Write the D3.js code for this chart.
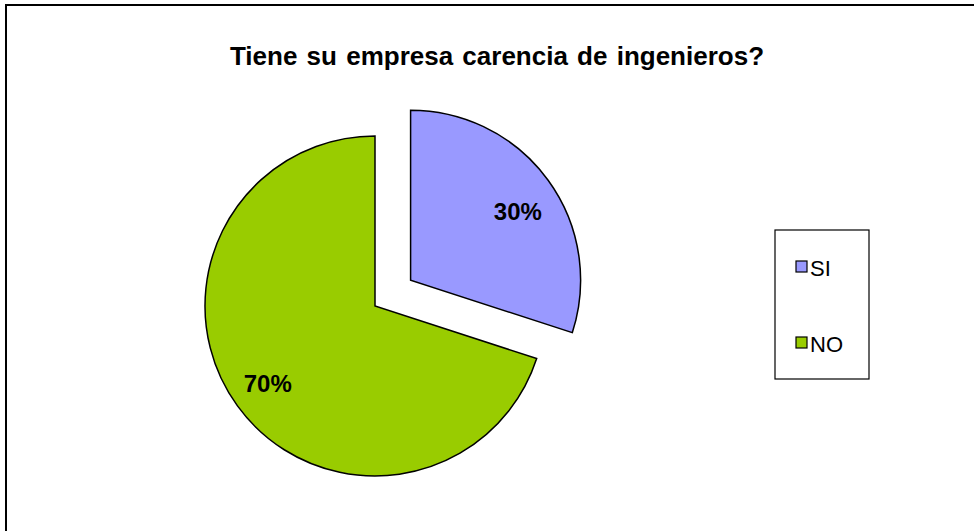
<!DOCTYPE html>
<html>
<head>
<meta charset="utf-8">
<script src="https://cdn.jsdelivr.net/npm/d3@7"></script>
<style>
  html, body { margin: 0; padding: 0; background: #fff; overflow: hidden; }
  svg { display: block; font-family: "Liberation Sans", Arial, sans-serif; }
</style>
</head>
<body>
<div class="canvas"></div>
<script>
// chart data
const categories = ['SI', 'NO'];
const values = [30, 70];
const labels = ['30%', '70%'];
const title = 'Tiene su empresa carencia de ingenieros?';

const colours = ['#9999FF', '#99CC00'];

const dims = { width: 974, height: 531, radius: 170 };
const cent = { x: 375, y: 306 };
const explode = 44;

const svg = d3.select('.canvas')
    .append('svg')
    .attr('width', dims.width)
    .attr('height', dims.height);

// outer chart frame (runs past the window on the right and bottom)
svg.append('rect')
    .attr('x', 6)
    .attr('y', 5)
    .attr('width', 1100)
    .attr('height', 700)
    .attr('fill', '#fff')
    .attr('stroke', '#000')
    .attr('stroke-width', 2);

svg.append('text')
    .attr('x', 497)
    .attr('y', 65)
    .attr('text-anchor', 'middle')
    .attr('font-size', 26)
    .attr('font-weight', 'bold')
    .attr('word-spacing', 2)
    .text(title);

const colour = d3.scaleOrdinal()
    .domain(categories)
    .range(colours);

const pie = d3.pie()
    .sort(null)
    .value(d => d.value);

const data = categories.map((c, i) => ({ name: c, value: values[i], label: labels[i] }));

const arcPath = d3.arc()
    .outerRadius(dims.radius)
    .innerRadius(0);

const labelArc = d3.arc()
    .outerRadius(dims.radius * 1.56)
    .innerRadius(0);

const graph = svg.append('g')
    .attr('transform', `translate(${cent.x}, ${cent.y})`);

// SI slice is pulled out of the pie
const offset = (d, i) => {
    if (i !== 0) return [0, 0];
    const mid = (d.startAngle + d.endAngle) / 2;
    return [Math.sin(mid) * explode, -Math.cos(mid) * explode];
};

const slices = graph.selectAll('g.slice')
    .data(pie(data))
    .enter()
    .append('g')
    .attr('class', 'slice')
    .attr('transform', (d, i) => `translate(${offset(d, i)})`);

slices.append('path')
    .attr('d', arcPath)
    .attr('fill', d => colour(d.data.name))
    .attr('stroke', '#000')
    .attr('stroke-width', 1.5)
    .attr('stroke-linejoin', 'miter');

slices.append('text')
    .attr('transform', (d, i) => {
        const [x, y] = labelArc.centroid(d);
        return `translate(${x}, ${y + (i === 0 ? 9 : 0)})`;
    })
    .attr('text-anchor', 'middle')
    .attr('dominant-baseline', 'central')
    .attr('font-size', 24)
    .attr('font-weight', 'bold')
    .text(d => d.data.label);

// legend
const legend = svg.append('g')
    .attr('transform', 'translate(775, 230)');

legend.append('rect')
    .attr('width', 94)
    .attr('height', 149)
    .attr('fill', '#fff')
    .attr('stroke', '#000')
    .attr('stroke-width', 1.2);

const items = legend.selectAll('g.item')
    .data(categories)
    .enter()
    .append('g')
    .attr('class', 'item')
    .attr('transform', (d, i) => `translate(21, ${37 + i * 76})`);

items.append('rect')
    .attr('x', 0)
    .attr('y', -6)
    .attr('width', 11)
    .attr('height', 11)
    .attr('fill', d => colour(d))
    .attr('stroke', '#000')
    .attr('stroke-width', 1.2);

items.append('text')
    .attr('x', 14)
    .attr('y', 1)
    .attr('dominant-baseline', 'central')
    .attr('font-size', 22)
    .text(d => d);
</script>
</body>
</html>
